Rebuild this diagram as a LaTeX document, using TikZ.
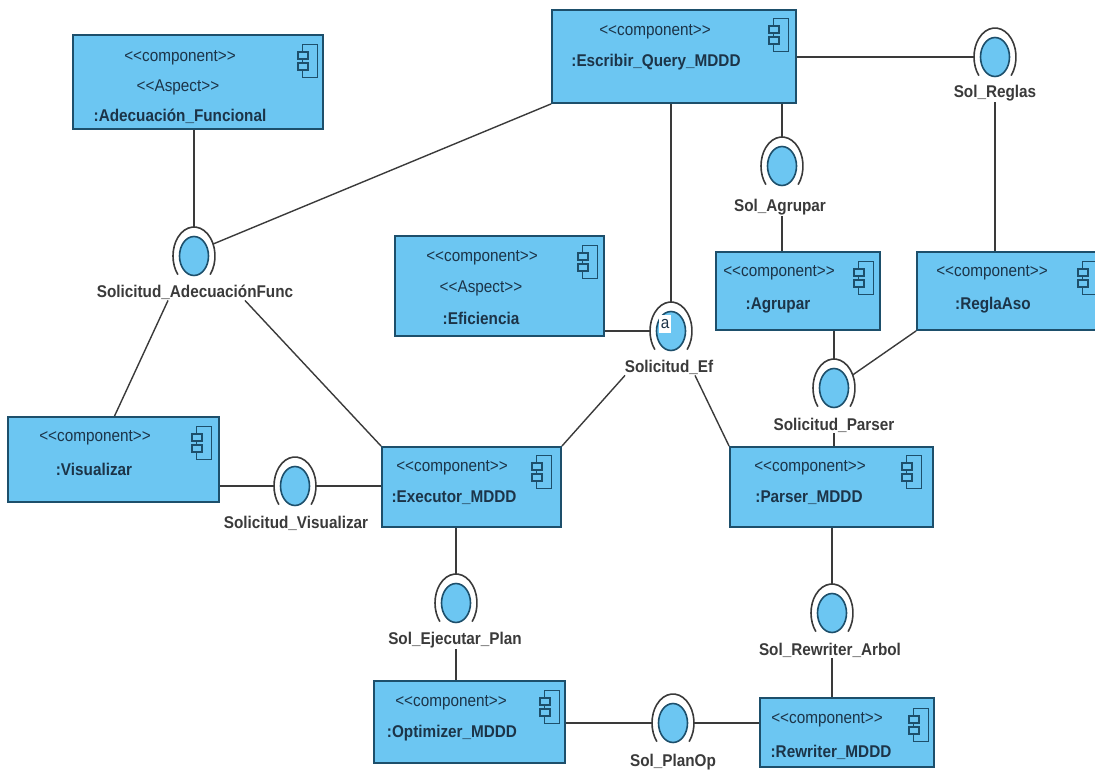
\documentclass[tikz,border=0pt]{standalone}
\usepackage{fontspec}
\setmainfont[FakeStretch=0.9]{Liberation Sans}
\usetikzlibrary{shapes.geometric,fit}
\definecolor{compblue}{HTML}{6CC6F2}
\definecolor{compedge}{HTML}{1D4F6B}
\definecolor{comptext}{HTML}{1C3448}
\definecolor{linegray}{HTML}{3A3A3A}
\tikzset{
  compbox/.style = {draw = compedge, fill = compblue, line width = 1.8pt, inner sep = 0pt},
  stereotxt/.style = {text = comptext, inner sep = 0pt, font = \fontsize{17}{20}\selectfont},
  nametxt/.style = {text = comptext, inner sep = 0pt, font = \fontsize{17}{20}\selectfont\bfseries},
  ifacelbl/.style = {text = linegray, inner sep = 1pt, font = \fontsize{17}{20}\selectfont\bfseries},
  ifaceball/.style = {ellipse, draw = compedge, fill = compblue, line width = 1.6pt, inner sep = 0pt, minimum width = 29pt, minimum height = 39pt},
  ifaceouter/.style = {ellipse, inner sep = 0pt, minimum width = 42pt, minimum height = 58pt},
  link/.style = {draw = linegray, line width = 1.4pt}
}
\newcommand{\compicon}[2]{
  \draw [draw = compedge, line width = 1.5pt] (#1-7.5,#2-16.5) rectangle (#1+7.5,#2+16.5);
  \draw [draw = compedge, fill = compblue, line width = 1.5pt] (#1-12,#2-9) rectangle (#1-2,#2-2);
  \draw [draw = compedge, fill = compblue, line width = 1.5pt] (#1-12,#2+2) rectangle (#1-2,#2+9);
}
\newcommand{\iface}[3]{
  \node [ifaceouter] (#1) at (#2,#3) {};
  \node [ifaceball] (#1-ball) at (#2,#3) {};
  \draw [draw = linegray, line width = 1.6pt] (#1.center) ++(-40:21pt and 29pt) arc [start angle = -40, end angle = 220, x radius = 21pt, y radius = 29pt];
}
\begin{document}
\begin{tikzpicture}[x = 1pt, y = -1pt]
\useasboundingbox (0,0) rectangle (1095,774);
\clip (0,0) rectangle (1095,774);
\node [compbox, fit = {(552,10) (796,103)}] (escribir) {};
\node [compbox, fit = {(73,35) (323,129)}] (adecuacion) {};
\node [compbox, fit = {(395,236) (604,336)}] (eficiencia) {};
\node [compbox, fit = {(716,252) (880,330)}] (agrupar) {};
\node [compbox, fit = {(917,252) (1105,330)}] (reglaaso) {};
\node [compbox, fit = {(8,417) (219,502)}] (visualizar) {};
\node [compbox, fit = {(382,447) (561,527)}] (executor) {};
\node [compbox, fit = {(730,447) (933,527)}] (parser) {};
\node [compbox, fit = {(374,681) (565,763)}] (optimizer) {};
\node [compbox, fit = {(760,698) (934,767)}] (rewriter) {};
\compicon{781}{35}
\compicon{310}{61}
\compicon{590}{262}
\compicon{866}{278}
\compicon{1090}{278}
\compicon{204}{443}
\compicon{544}{472}
\compicon{914}{472}
\compicon{552}{707}
\compicon{921}{725}
\node [stereotxt] (escribir-st) at (655,32) {{<}{<}component{>}{>}};
\node [nametxt] (escribir-nm) at (656,62) {:Escribir\_Query\_MDDD};
\node [stereotxt] (adecuacion-st) at (180,58) {{<}{<}component{>}{>}};
\node [stereotxt] (adecuacion-as) at (178,87) {{<}{<}Aspect{>}{>}};
\node [nametxt] (adecuacion-nm) at (180,116) {:Adecuación\_Funcional};
\node [stereotxt] (eficiencia-st) at (482,258) {{<}{<}component{>}{>}};
\node [stereotxt] (eficiencia-as) at (481,288) {{<}{<}Aspect{>}{>}};
\node [nametxt] (eficiencia-nm) at (481,318) {:Eficiencia};
\node [stereotxt] (agrupar-st) at (779,273) {{<}{<}component{>}{>}};
\node [nametxt] (agrupar-nm) at (778,305) {:Agrupar};
\node [stereotxt] (reglaaso-st) at (992,273) {{<}{<}component{>}{>}};
\node [nametxt] (reglaaso-nm) at (993,305) {:ReglaAso};
\node [stereotxt] (visualizar-st) at (95,438) {{<}{<}component{>}{>}};
\node [nametxt] (visualizar-nm) at (94,469) {:Visualizar};
\node [stereotxt] (executor-st) at (452,468) {{<}{<}component{>}{>}};
\node [nametxt] (executor-nm) at (454,498) {:Executor\_MDDD};
\node [stereotxt] (parser-st) at (810,468) {{<}{<}component{>}{>}};
\node [nametxt] (parser-nm) at (809,498) {:Parser\_MDDD};
\node [stereotxt] (optimizer-st) at (451,703) {{<}{<}component{>}{>}};
\node [nametxt] (optimizer-nm) at (452,733) {:Optimizer\_MDDD};
\node [stereotxt] (rewriter-st) at (827,720) {{<}{<}component{>}{>}};
\node [nametxt] (rewriter-nm) at (831,752) {:Rewriter\_MDDD};
\iface{ifreglas}{995}{57}
\iface{ifagrupar}{782}{166}
\iface{ifadecuacion}{194}{256}
\iface{ifef}{671}{331}
\iface{ifparser}{834}{388}
\iface{ifvisualizar}{295}{486}
\iface{ifejecutar}{456}{603}
\iface{ifrewriter}{832}{613}
\iface{ifplanop}{673}{723}
\node [fill = white, stereotxt, minimum width = 12pt, minimum height = 18pt] (efmark) at (665,324) {a};
\node [ifacelbl] (lblreglas) at (995,93) {Sol\_Reglas};
\node [ifacelbl] (lblagrupar) at (780,207) {Sol\_Agrupar};
\node [ifacelbl] (lbladecuacion) at (195,292) {Solicitud\_AdecuaciónFunc};
\node [ifacelbl] (lblef) at (669,367) {Solicitud\_Ef};
\node [ifacelbl] (lblparser) at (834,425) {Solicitud\_Parser};
\node [ifacelbl] (lblvisualizar) at (296,523) {Solicitud\_Visualizar};
\node [ifacelbl] (lblejecutar) at (455,640) {Sol\_Ejecutar\_Plan};
\node [ifacelbl] (lblrewriter) at (830,650) {Sol\_Rewriter\_Arbol};
\node [ifacelbl] (lblplanop) at (673,762) {Sol\_PlanOp};
\draw [link] (adecuacion.south -| ifadecuacion.north) -- (ifadecuacion.north);
\draw [link] (escribir.south west) -- (ifadecuacion.32);
\draw [link] (escribir.south -| ifef.north) -- (ifef.north);
\draw [link] (escribir.south -| ifagrupar.north) -- (ifagrupar.north);
\draw [link] (escribir.east |- ifreglas.west) -- (ifreglas.west);
\draw [link] (lblreglas.south) -- (reglaaso.north -| lblreglas.south);
\draw [link] (lblagrupar.south -| ifagrupar.north) -- (agrupar.north -| ifagrupar.north);
\draw [link] (eficiencia.east |- ifef.west) -- (ifef.west);
\draw [link] ([xshift = -27pt]lbladecuacion.south) -- ([xshift = 1pt]visualizar.north);
\draw [link] ([xshift = 50pt]lbladecuacion.south) -- (executor.north west);
\draw [link] ([xshift = -44pt]lblef.south) -- (executor.north east);
\draw [link] ([xshift = 26pt]lblef.south) -- (parser.north west);
\draw [link] (agrupar.south -| ifparser.north) -- (ifparser.north);
\draw [link] (reglaaso.south west) -- (ifparser.35);
\draw [link] (lblparser.south) -- (parser.north -| lblparser.south);
\draw [link] (visualizar.east |- ifvisualizar.west) -- (ifvisualizar.west);
\draw [link] (ifvisualizar.east) -- (executor.west |- ifvisualizar.east);
\draw [link] (executor.south -| ifejecutar.north) -- (ifejecutar.north);
\draw [link] (lblejecutar.south -| ifejecutar.north) -- (optimizer.north -| ifejecutar.north);
\draw [link] (parser.south -| ifrewriter.north) -- (ifrewriter.north);
\draw [link] (lblrewriter.south -| ifrewriter.north) -- (rewriter.north -| ifrewriter.north);
\draw [link] (optimizer.east |- ifplanop.west) -- (ifplanop.west);
\draw [link] (ifplanop.east) -- (rewriter.west |- ifplanop.east);
\end{tikzpicture}
\end{document}
